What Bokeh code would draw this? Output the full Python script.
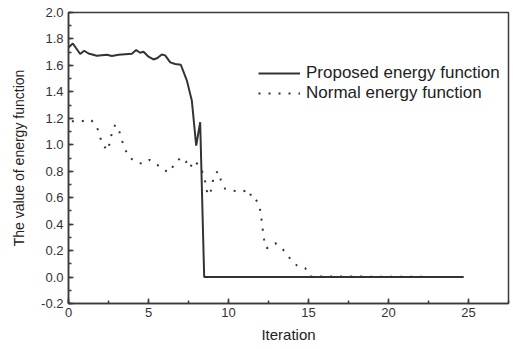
from bokeh.plotting import figure
from bokeh.models import SingleIntervalTicker, NumeralTickFormatter, Range1d, Legend, LegendItem
from bokeh.embed import file_html
from bokeh.resources import INLINE

# Proposed energy function (solid line)
prop_x = [0, 0.27, 0.73, 0.98, 1.25, 1.77, 2.4, 2.71, 3.13, 3.96, 4.23, 4.48, 4.69, 5.0,
          5.31, 5.56, 5.83, 6.04, 6.36, 6.67, 7.02, 7.4, 7.71, 7.98, 8.23, 8.48, 24.7]
prop_y = [1.736, 1.766, 1.686, 1.711, 1.69, 1.673, 1.68, 1.671, 1.68, 1.688, 1.716, 1.696, 1.703, 1.666,
          1.645, 1.656, 1.683, 1.676, 1.623, 1.611, 1.605, 1.485, 1.333, 0.994, 1.17, 0.0, 0.0]

# Normal energy function (dotted line)
norm_x = [0.21, 0.77, 1.4, 1.77, 1.94, 2.1, 2.44, 2.6, 2.71, 2.92, 3.17, 3.33, 3.52, 3.79, 4.27,
          4.65, 5.06, 5.56, 5.86, 6.31, 6.63, 7.04, 7.33, 7.56, 7.88, 8.29, 8.5, 8.6, 8.69, 8.86,
          8.98, 9.08, 9.33, 9.52, 9.79, 10.21, 10.79, 11.29, 11.46, 11.67, 11.92, 12.02, 12.08,
          12.15, 12.23, 12.38, 12.92, 13.4, 13.81, 14.27, 14.79, 15.1, 24.7]
norm_y = [1.177, 1.177, 1.19, 1.137, 1.075, 1.007, 0.956, 1.022, 1.09, 1.152, 1.102, 1.037, 0.969,
          0.906, 0.866, 0.856, 0.886, 0.848, 0.813, 0.792, 0.856, 0.906, 0.876, 0.823, 0.881, 0.818,
          0.75, 0.685, 0.619, 0.634, 0.697, 0.765, 0.8, 0.735, 0.667, 0.654, 0.644, 0.66, 0.592,
          0.592, 0.546, 0.481, 0.415, 0.35, 0.282, 0.217, 0.257, 0.209, 0.146, 0.088, 0.068, 0.005, 0.0]

series_labels = ["Proposed energy function", "Normal energy function"]
x_title = "Iteration"
y_title = "The value of energy function"

FONT = "Liberation Sans"
INK = "#3a3a3a"

p = figure(width=513, height=349, output_backend="svg", toolbar_location=None,
           x_range=Range1d(0, 27.5), y_range=Range1d(-0.2, 2.0),
           min_border_left=68, min_border_right=5, min_border_top=12, min_border_bottom=46)

p.xgrid.visible = False
p.ygrid.visible = False
p.outline_line_color = INK
p.outline_line_width = 1.5
p.background_fill_color = "white"
p.border_fill_color = "white"

r1 = p.line(prop_x, prop_y, line_color="#333333", line_width=2)
r2 = p.line(norm_x, norm_y, line_color="#333333", line_width=2, line_dash="2 8")

p.xaxis.ticker = SingleIntervalTicker(interval=5, num_minor_ticks=2)
p.yaxis.ticker = SingleIntervalTicker(interval=0.2, num_minor_ticks=2)
p.yaxis.formatter = NumeralTickFormatter(format="0.0")

for ax in (p.xaxis[0], p.yaxis[0]):
    ax.axis_line_color = INK
    ax.axis_line_width = 1.5
    ax.major_tick_line_color = INK
    ax.minor_tick_line_color = INK
    ax.major_tick_line_width = 1.5
    ax.minor_tick_line_width = 1.5
    ax.major_tick_in = 5
    ax.major_tick_out = 0
    ax.minor_tick_in = 3
    ax.minor_tick_out = 0
    ax.major_label_text_font = FONT
    ax.major_label_text_font_size = "13px"
    ax.major_label_text_color = "#333333"
    ax.axis_label_text_font = FONT
    ax.axis_label_text_font_style = "normal"
    ax.axis_label_text_color = "#222222"

p.xaxis.axis_label = x_title
p.yaxis.axis_label = y_title
p.xaxis.major_label_standoff = 4
p.yaxis.major_label_standoff = 5
p.xaxis.axis_label_text_font_size = "15px"
p.yaxis.axis_label_text_font_size = "14px"
p.xaxis.axis_label_standoff = 6
p.yaxis.axis_label_standoff = 11

legend = Legend(items=[LegendItem(label=series_labels[0], renderers=[r1]),
                       LegendItem(label=series_labels[1], renderers=[r2])],
                location=(190, 200))
legend.padding = 0
legend.margin = 0
legend.spacing = 0
legend.glyph_width = 42
legend.glyph_height = 20
legend.label_height = 20
legend.label_standoff = 6
legend.label_text_font = FONT
legend.label_text_font_size = "17px"
legend.label_text_color = "#222222"
legend.border_line_alpha = 0
legend.background_fill_alpha = 0
p.add_layout(legend)

open("out.html", "w").write(file_html(p, INLINE))
